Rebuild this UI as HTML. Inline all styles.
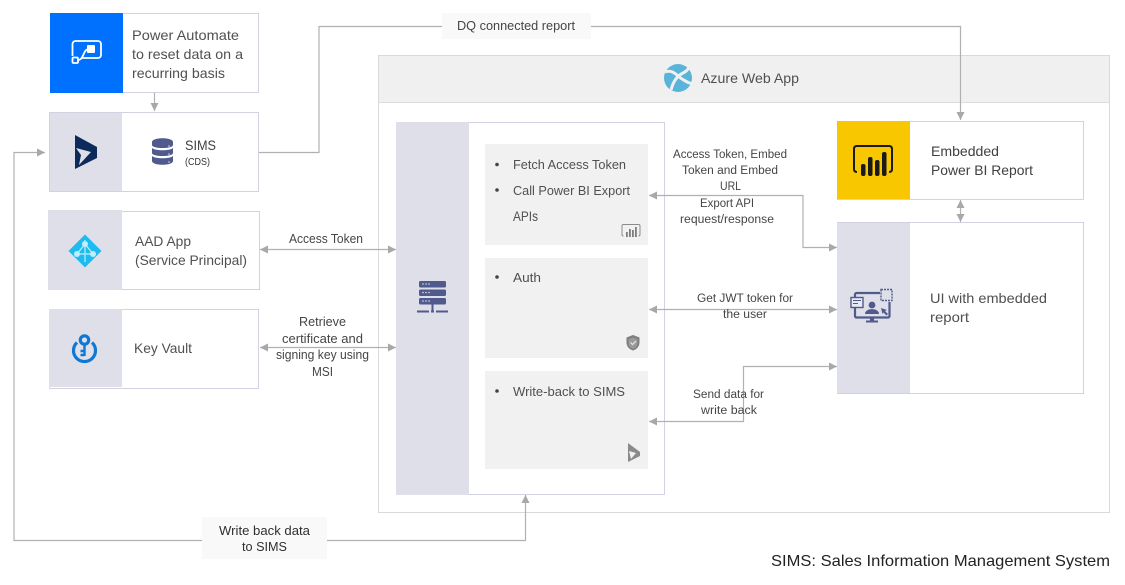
<!DOCTYPE html>
<html lang="en"><head><meta charset="utf-8"><title>SIMS architecture</title>
<style>
html,body{margin:0;padding:0;background:#fff;width:1125px;height:585px;overflow:hidden}
svg{display:block}
text{font-family:"Liberation Sans",sans-serif;font-size:14px;fill:#505050}
.s{font-size:12.5px;fill:#454545}
</style></head><body>
<svg width="1125" height="585" viewBox="0 0 1125 585" xmlns="http://www.w3.org/2000/svg">
<defs>
<marker id="a" viewBox="0 0 8 8" refX="8" refY="4" markerWidth="8" markerHeight="8" markerUnits="userSpaceOnUse" orient="auto-start-reverse"><path d="M0 0L8 4L0 8Z" fill="#a8a8a8"/></marker>
</defs>
<rect width="1125" height="585" fill="#fff"/>

<!-- Azure container -->
<rect x="378.5" y="55.5" width="731" height="457" fill="#fff" stroke="#d9d9d9"/>
<rect x="379" y="56" width="730" height="46" fill="#f0f0f0"/>
<line x1="379" x2="1109" y1="102.5" y2="102.5" stroke="#dcdcdc"/>

<!-- Left boxes -->
<rect x="50.5" y="13.5" width="208" height="79" fill="#fff" stroke="#d2d2e2"/>
<rect x="50" y="13" width="73" height="80" fill="#0070ff"/>
<rect x="49.5" y="112.5" width="209" height="79" fill="#fff" stroke="#d2d2e2"/>
<rect x="50" y="113" width="72" height="78" fill="#dfdfe9"/>
<rect x="48.5" y="211.5" width="211" height="78" fill="#fff" stroke="#d2d2e2"/>
<rect x="48" y="210" width="74" height="80" fill="#dfdfe9"/>
<rect x="49.5" y="309.5" width="209" height="79" fill="#fff" stroke="#d2d2e2"/>
<rect x="49" y="309" width="73" height="78" fill="#dfdfe9"/>

<!-- Inner app box -->
<rect x="396.5" y="122.5" width="268" height="372" fill="#fff" stroke="#d2d2e2"/>
<rect x="396" y="122" width="73" height="373" fill="#dfdfe9"/>
<rect x="485" y="144" width="163" height="101" fill="#f1f1f1"/>
<rect x="485" y="258" width="163" height="100" fill="#f1f1f1"/>
<rect x="485" y="371" width="163" height="98" fill="#f1f1f1"/>

<!-- Right boxes -->
<rect x="837.5" y="121.5" width="246" height="78" fill="#fff" stroke="#d2d2e2"/>
<rect x="837" y="121" width="73" height="78" fill="#f8c700"/>
<rect x="837.5" y="222.5" width="246" height="171" fill="#fff" stroke="#d2d2e2"/>
<rect x="837" y="223" width="73" height="170" fill="#dfdfe9"/>

<!-- Connectors -->
<g fill="none" stroke="#b0b0b0" stroke-width="1.2">
<path d="M154.500 93V111" marker-end="url(#a)"/>
<path d="M259 152.500H319V26.500H960.500V120" marker-end="url(#a)"/>
<path d="M525.500 495V540.500H14V152.500H45" marker-start="url(#a)" marker-end="url(#a)"/>
<path d="M260 249.500H396" marker-start="url(#a)" marker-end="url(#a)"/>
<path d="M260 347.500H396" marker-start="url(#a)" marker-end="url(#a)"/>
<path d="M649 195.500H803V247.500H837" marker-start="url(#a)" marker-end="url(#a)"/>
<path d="M649 309.500H837" marker-start="url(#a)" marker-end="url(#a)"/>
<path d="M649 421.500H743.500V366.500H837" marker-start="url(#a)" marker-end="url(#a)"/>
<path d="M960.500 200V222" marker-start="url(#a)" marker-end="url(#a)"/>
</g>

<!-- Label backgrounds -->
<rect x="442" y="13" width="149" height="26" fill="#f9f9f9"/>
<rect x="202" y="517" width="125" height="42" fill="#f9f9f9"/>

<!-- Text -->
<text x="132" y="40" textLength="107" lengthAdjust="spacingAndGlyphs">Power Automate</text>
<text x="132" y="59" textLength="111" lengthAdjust="spacingAndGlyphs">to reset data on a</text>
<text x="132" y="78" textLength="93" lengthAdjust="spacingAndGlyphs">recurring basis</text>
<text x="185" y="150" textLength="31" lengthAdjust="spacingAndGlyphs" style="fill:#404040">SIMS</text>
<text x="185" y="165" textLength="25" lengthAdjust="spacingAndGlyphs" style="font-size:10px;fill:#333">(CDS)</text>
<text x="135" y="246" textLength="56" lengthAdjust="spacingAndGlyphs">AAD App</text>
<text x="135" y="265" textLength="112" lengthAdjust="spacingAndGlyphs">(Service Principal)</text>
<text x="134" y="353" textLength="58" lengthAdjust="spacingAndGlyphs">Key Vault</text>

<text class="s" x="289" y="243" textLength="74" lengthAdjust="spacingAndGlyphs">Access Token</text>
<text class="s" x="299" y="326" textLength="47" lengthAdjust="spacingAndGlyphs">Retrieve</text>
<text class="s" x="282" y="343" textLength="81" lengthAdjust="spacingAndGlyphs">certificate and</text>
<text class="s" x="276" y="359" textLength="93" lengthAdjust="spacingAndGlyphs">signing key using</text>
<text class="s" x="312" y="376" textLength="21" lengthAdjust="spacingAndGlyphs">MSI</text>

<circle cx="497" cy="164.500" r="1.800" fill="#444"/>
<circle cx="497" cy="190" r="1.800" fill="#444"/>
<circle cx="497" cy="277" r="1.800" fill="#444"/>
<circle cx="497" cy="391" r="1.800" fill="#444"/>
<text x="513" y="169" textLength="113" lengthAdjust="spacingAndGlyphs" style="font-size:13px">Fetch Access Token</text>
<text x="513" y="195" textLength="117" lengthAdjust="spacingAndGlyphs" style="font-size:13px">Call Power BI Export</text>
<text x="513" y="221" textLength="25" lengthAdjust="spacingAndGlyphs" style="font-size:14px">APIs</text>
<text x="513" y="282" textLength="28" lengthAdjust="spacingAndGlyphs" style="font-size:13px">Auth</text>
<text x="513" y="396" textLength="112" lengthAdjust="spacingAndGlyphs" style="font-size:13px">Write-back to SIMS</text>

<text class="s" x="673" y="158" textLength="114" lengthAdjust="spacingAndGlyphs" style="font-size:11.500px">Access Token, Embed</text>
<text class="s" x="682" y="174" textLength="96" lengthAdjust="spacingAndGlyphs" style="font-size:11.500px">Token and Embed</text>
<text class="s" x="720" y="190" textLength="21" lengthAdjust="spacingAndGlyphs" style="font-size:11.500px">URL</text>
<text class="s" x="700" y="207" textLength="54" lengthAdjust="spacingAndGlyphs" style="font-size:11.500px">Export API</text>
<text class="s" x="680" y="223" textLength="94" lengthAdjust="spacingAndGlyphs" style="font-size:11.500px">request/response</text>
<text class="s" x="697" y="302" textLength="96" lengthAdjust="spacingAndGlyphs" style="font-size:11.500px">Get JWT token for</text>
<text class="s" x="723" y="318" textLength="44" lengthAdjust="spacingAndGlyphs" style="font-size:11.500px">the user</text>
<text class="s" x="693" y="398" textLength="71" lengthAdjust="spacingAndGlyphs" style="font-size:11.500px">Send data for</text>
<text class="s" x="701" y="414" textLength="56" lengthAdjust="spacingAndGlyphs" style="font-size:11.500px">write back</text>

<text x="931" y="156" textLength="68" lengthAdjust="spacingAndGlyphs" style="fill:#404040">Embedded</text>
<text x="931" y="175" textLength="102" lengthAdjust="spacingAndGlyphs" style="fill:#404040">Power BI Report</text>
<text x="930" y="303" textLength="117" lengthAdjust="spacingAndGlyphs">UI with embedded</text>
<text x="930" y="322" textLength="39" lengthAdjust="spacingAndGlyphs">report</text>
<text x="701" y="83" textLength="98" lengthAdjust="spacingAndGlyphs">Azure Web App</text>
<text class="s" x="457" y="30" textLength="118" lengthAdjust="spacingAndGlyphs">DQ connected report</text>
<text class="s" x="219" y="535" textLength="91" lengthAdjust="spacingAndGlyphs" style="fill:#303030">Write back data</text>
<text class="s" x="242" y="551" textLength="45" lengthAdjust="spacingAndGlyphs" style="fill:#303030">to SIMS</text>
<text x="771" y="566" textLength="339" lengthAdjust="spacingAndGlyphs" style="font-size:16px;fill:#222">SIMS: Sales Information Management System</text>

<!-- Power Automate icon -->
<g fill="none" stroke="#fff" stroke-width="1.800">
<path d="M72.500 56V44a3 3 0 0 1 3-3H98a3 3 0 0 1 3 3v11a3 3 0 0 1-3 3H81"/>
<rect x="72.500" y="57.500" width="5.500" height="5.500" rx="1"/>
<path d="M78 60c6 0 5-11 11-11"/>
</g>
<rect x="87" y="45" width="8" height="8" rx="1" fill="#fff"/>

<!-- Dynamics icon -->
<path d="M75 135L97 147V158L75 169Z" fill="#0d2a5c"/>
<path d="M76 148L91 152L79 165L81 155Z" fill="#dfdfe9"/>

<!-- Database icon -->
<g fill="#505a8c">
<path d="M152 142c0-5 21-5 21 0v3c0 4-21 4-21 0z"/>
<path d="M152 148c3 3 18 3 21 0v5c0 4-21 4-21 0z"/>
<path d="M152 156c3 3 18 3 21 0v5c0 5-21 5-21 0z"/>
</g>
<g fill="#dfdfe9"><circle cx="169" cy="146" r=".8"/><circle cx="169" cy="154" r=".8"/><circle cx="169" cy="162" r=".8"/></g>

<!-- AAD icon -->
<path d="M85 234.500L101.500 251L85 267.500L68.500 251Z" fill="#1ebbf0"/>
<g stroke="#bfeefc" stroke-width="1.200" fill="none"><path d="M85 244L77 254M85 244L93 254M77 254H93M85 240V262"/></g>
<circle cx="85" cy="244" r="3" fill="#bfeefc"/><circle cx="77" cy="254" r="3" fill="#bfeefc"/><circle cx="93" cy="254" r="3" fill="#bfeefc"/>

<!-- Key Vault icon -->
<g fill="none" stroke="#0f78d4" stroke-width="3.200">
<path d="M77 342.500a11 11 0 1 0 15 0"/>
<circle cx="84.500" cy="340" r="4.200"/>
<path d="M84.500 344V356M84.500 351H80.500M84.500 355H80.500" stroke-width="2.400"/>
</g>

<!-- Server icon -->
<g fill="#505a8c">
<rect x="419" y="281" width="27" height="6.500" rx="1.500"/>
<rect x="419" y="289.500" width="27" height="6.500" rx="1.500"/>
<rect x="419" y="298" width="27" height="6.500" rx="1.500"/>
<rect x="431.500" y="304" width="2" height="7"/>
<rect x="417" y="310.500" width="12" height="2"/><rect x="431" y="310.500" width="3" height="2"/><rect x="436" y="310.500" width="12" height="2"/>
</g>
<g fill="#dfdfe9"><circle cx="423" cy="284" r=".8"/><circle cx="426" cy="284" r=".8"/><circle cx="429" cy="284" r=".8"/><circle cx="423" cy="292.500" r=".8"/><circle cx="426" cy="292.500" r=".8"/><circle cx="429" cy="292.500" r=".8"/><circle cx="423" cy="301" r=".8"/><circle cx="426" cy="301" r=".8"/><circle cx="429" cy="301" r=".8"/></g>

<!-- Power BI icon -->
<path d="M857 172c-2 0-3-1-3-3V149c0-2 1-3 3-3H889c2 0 3 1 3 3V169c0 2-1 3-3 3" fill="none" stroke="#1a1a1a" stroke-width="2"/>
<g fill="#1a1a1a"><rect x="861" y="164" width="4.500" height="12" rx="2"/><rect x="868" y="157" width="4.500" height="19" rx="2"/><rect x="875" y="160" width="4.500" height="16" rx="2"/><rect x="882" y="152" width="4.500" height="24" rx="2"/></g>

<!-- UI icon -->
<g fill="none" stroke="#505a8c">
<path d="M855 298V294.500a1.500 1.500 0 0 1 1.500-1.500H880M889.500 302V316a1.500 1.500 0 0 1-1.500 1.500H856.500A1.500 1.500 0 0 1 855 316V308" stroke-width="2.200"/>
<rect x="851" y="297.500" width="12" height="10" fill="#eaeaf2" stroke-width="1.400"/>
<path d="M853 300.500H861M853 303.500H858" stroke-width="1.100"/>
<rect x="881" y="289.500" width="11" height="11" stroke-width="1.400" stroke-dasharray="2 1"/>
</g>
<g fill="#505a8c">
<circle cx="872" cy="305" r="3.400"/><path d="M865 314c0-6.500 14-6.500 14 0z"/>
<path d="M881 308L887 310L885 311L888 314L886.500 315.500L883.500 312.500L882.500 314Z"/>
<rect x="870" y="318" width="4" height="3"/><rect x="866" y="320.500" width="12" height="2"/>
</g>

<!-- Azure globe -->
<circle cx="678" cy="78" r="14" fill="#59b4d9"/>
<g fill="none" stroke="#f0f0f0" stroke-width="3">
<path d="M665 72c8-3 12 4 17 7s8 5 10 4"/>
<path d="M671 90c2-8 6-14 12-17 3-1.500 5-3 6-6"/>
</g>

<!-- Small icons -->
<path d="M623.500 236c-1 0-1.500-.5-1.500-1.500v-8.500c0-1 .5-1.500 1.500-1.500h15c1 0 1.500 .5 1.500 1.500v8.500c0 1-.5 1.500-1.500 1.500" fill="none" stroke="#8a8a8a" stroke-width="1"/>
<g fill="#7d7d7d"><rect x="626" y="232" width="1.800" height="5"/><rect x="629" y="229" width="1.800" height="8"/><rect x="632" y="230" width="1.800" height="7"/><rect x="635" y="227" width="1.800" height="10"/></g>
<path d="M633 335l6.500 2.500v5c0 4-3 7-6.500 8c-3.500-1-6.500-4-6.500-8v-5z" fill="#7f7f7f"/>
<path d="M633 337.500l4.500 1.700v3.800c0 2.800-2 5-4.500 5.800c-2.500-.8-4.500-3-4.500-5.800v-3.800z" fill="#9a9a9a"/>
<path d="M630.500 342.500l2 2l3.500-3.500" fill="none" stroke="#eee" stroke-width="1"/>
<path d="M628 443L640 452V456L628 462Z" fill="#8a8a8a"/>
<path d="M629 451L636 453L631 459Z" fill="#f1f1f1"/>
</svg>
</body></html>
